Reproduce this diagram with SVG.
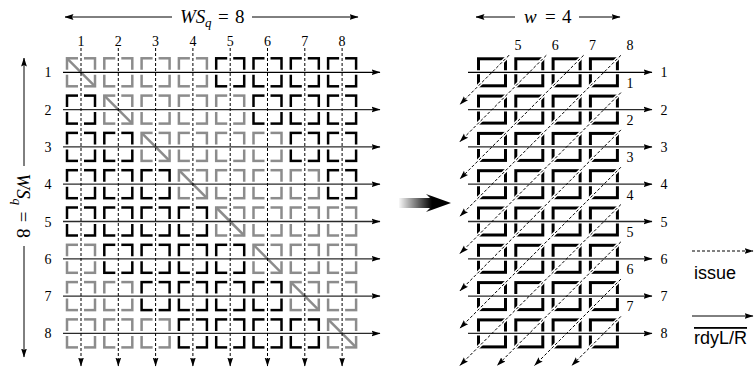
<svg xmlns="http://www.w3.org/2000/svg" width="754" height="367" viewBox="0 0 754 367">
<defs>
<style>
.cl{fill:none;stroke-width:2.5}
.g{stroke:#8c8c8c}
.k{stroke:#000}
.cr{fill:none;stroke:#000;stroke-width:3}
.dg{stroke:#8c8c8c;stroke-width:2.5}
.halo{stroke:#fff;fill:none}
.row{stroke:#2a2a2a;stroke-width:1.3;fill:none}
.dash{stroke:#000;stroke-width:1;stroke-dasharray:3 2;fill:none}
.num{font-family:"Liberation Serif","DejaVu Serif",serif;font-size:14px;text-anchor:middle;fill:#000}
.math{font-family:"Liberation Serif","DejaVu Serif",serif;font-size:19px;fill:#000}
.ann{stroke:#000;stroke-width:1;fill:none}
.leg{font-family:"Liberation Sans",Arial,sans-serif;font-size:18px;fill:#000}
</style>
<marker id="ah" markerWidth="9" markerHeight="7" refX="8.5" refY="3.5" orient="auto" markerUnits="userSpaceOnUse">
<path d="M0,0.6 L9,3.5 L0,6.4 L1.5,3.5 z" fill="#000"/>
</marker>
<marker id="ahs" markerWidth="9" markerHeight="7" refX="8.5" refY="3.5" orient="auto-start-reverse" markerUnits="userSpaceOnUse">
<path d="M0,0.6 L9,3.5 L0,6.4 L1.5,3.5 z" fill="#000"/>
</marker>
<linearGradient id="bg" x1="398" y1="0" x2="432" y2="0" gradientUnits="userSpaceOnUse">
<stop offset="0" stop-color="#fff"/>
<stop offset="1" stop-color="#000"/>
</linearGradient>
</defs>

<!-- annotations -->
<g id="ws-top">
<line class="ann" x1="65" y1="17" x2="172" y2="17" marker-start="url(#ahs)"/>
<line class="ann" x1="252" y1="17" x2="358" y2="17" marker-end="url(#ah)"/>
<text class="math" y="23"><tspan x="180" font-style="italic">WS</tspan><tspan x="205" font-style="italic" font-size="13" dy="4">q</tspan><tspan x="218" dy="-4">=</tspan><tspan x="235">8</tspan></text>
</g>
<g id="ws-left">
<line class="ann" x1="24" y1="166" x2="24" y2="58" marker-end="url(#ah)"/>
<line class="ann" x1="24" y1="246" x2="24" y2="357" marker-end="url(#ah)"/>
<text class="math" transform="translate(17,206) rotate(90)"><tspan x="-32.5" font-style="italic">WS</tspan><tspan x="-7.5" font-style="italic" font-size="13" dy="4">q</tspan><tspan x="5.5" dy="-4">=</tspan><tspan x="22.5">8</tspan></text>
</g>
<g id="w-top">
<line class="ann" x1="476" y1="17" x2="515" y2="17" marker-start="url(#ahs)"/>
<line class="ann" x1="579" y1="17" x2="620" y2="17" marker-end="url(#ah)"/>
<text class="math" y="23"><tspan x="524" font-style="italic">w</tspan><tspan x="545">=</tspan><tspan x="562">4</tspan></text>
</g>

<!-- left grid cells -->
<g id="left-cells">
<g id="L11"><rect class="cl g" x="67" y="58.3" width="28" height="28"/></g>
<g id="L12"><rect class="cl g" x="104.3" y="58.3" width="28" height="28"/></g>
<g id="L13"><rect class="cl g" x="141.6" y="58.3" width="28" height="28"/></g>
<g id="L14"><rect class="cl g" x="178.9" y="58.3" width="28" height="28"/></g>
<g id="L15"><rect class="cl k" x="216.2" y="58.3" width="28" height="28"/></g>
<g id="L16"><rect class="cl k" x="253.5" y="58.3" width="28" height="28"/></g>
<g id="L17"><rect class="cl k" x="290.8" y="58.3" width="28" height="28"/></g>
<g id="L18"><rect class="cl k" x="328.1" y="58.3" width="28" height="28"/></g>

<g id="L21"><rect class="cl k" x="67" y="95.6" width="28" height="28"/></g>
<g id="L22"><rect class="cl g" x="104.3" y="95.6" width="28" height="28"/></g>
<g id="L23"><rect class="cl g" x="141.6" y="95.6" width="28" height="28"/></g>
<g id="L24"><rect class="cl g" x="178.9" y="95.6" width="28" height="28"/></g>
<g id="L25"><rect class="cl g" x="216.2" y="95.6" width="28" height="28"/></g>
<g id="L26"><rect class="cl k" x="253.5" y="95.6" width="28" height="28"/></g>
<g id="L27"><rect class="cl k" x="290.8" y="95.6" width="28" height="28"/></g>
<g id="L28"><rect class="cl k" x="328.1" y="95.6" width="28" height="28"/></g>

<g id="L31"><rect class="cl k" x="67" y="132.9" width="28" height="28"/></g>
<g id="L32"><rect class="cl k" x="104.3" y="132.9" width="28" height="28"/></g>
<g id="L33"><rect class="cl g" x="141.6" y="132.9" width="28" height="28"/></g>
<g id="L34"><rect class="cl g" x="178.9" y="132.9" width="28" height="28"/></g>
<g id="L35"><rect class="cl g" x="216.2" y="132.9" width="28" height="28"/></g>
<g id="L36"><rect class="cl g" x="253.5" y="132.9" width="28" height="28"/></g>
<g id="L37"><rect class="cl k" x="290.8" y="132.9" width="28" height="28"/></g>
<g id="L38"><rect class="cl k" x="328.1" y="132.9" width="28" height="28"/></g>

<g id="L41"><rect class="cl k" x="67" y="170.2" width="28" height="28"/></g>
<g id="L42"><rect class="cl k" x="104.3" y="170.2" width="28" height="28"/></g>
<g id="L43"><rect class="cl k" x="141.6" y="170.2" width="28" height="28"/></g>
<g id="L44"><rect class="cl g" x="178.9" y="170.2" width="28" height="28"/></g>
<g id="L45"><rect class="cl g" x="216.2" y="170.2" width="28" height="28"/></g>
<g id="L46"><rect class="cl g" x="253.5" y="170.2" width="28" height="28"/></g>
<g id="L47"><rect class="cl g" x="290.8" y="170.2" width="28" height="28"/></g>
<g id="L48"><rect class="cl k" x="328.1" y="170.2" width="28" height="28"/></g>

<g id="L51"><rect class="cl k" x="67" y="207.5" width="28" height="28"/></g>
<g id="L52"><rect class="cl k" x="104.3" y="207.5" width="28" height="28"/></g>
<g id="L53"><rect class="cl k" x="141.6" y="207.5" width="28" height="28"/></g>
<g id="L54"><rect class="cl k" x="178.9" y="207.5" width="28" height="28"/></g>
<g id="L55"><rect class="cl g" x="216.2" y="207.5" width="28" height="28"/></g>
<g id="L56"><rect class="cl g" x="253.5" y="207.5" width="28" height="28"/></g>
<g id="L57"><rect class="cl g" x="290.8" y="207.5" width="28" height="28"/></g>
<g id="L58"><rect class="cl g" x="328.1" y="207.5" width="28" height="28"/></g>

<g id="L61"><rect class="cl g" x="67" y="244.8" width="28" height="28"/></g>
<g id="L62"><rect class="cl k" x="104.3" y="244.8" width="28" height="28"/></g>
<g id="L63"><rect class="cl k" x="141.6" y="244.8" width="28" height="28"/></g>
<g id="L64"><rect class="cl k" x="178.9" y="244.8" width="28" height="28"/></g>
<g id="L65"><rect class="cl k" x="216.2" y="244.8" width="28" height="28"/></g>
<g id="L66"><rect class="cl g" x="253.5" y="244.8" width="28" height="28"/></g>
<g id="L67"><rect class="cl g" x="290.8" y="244.8" width="28" height="28"/></g>
<g id="L68"><rect class="cl g" x="328.1" y="244.8" width="28" height="28"/></g>

<g id="L71"><rect class="cl g" x="67" y="282.1" width="28" height="28"/></g>
<g id="L72"><rect class="cl g" x="104.3" y="282.1" width="28" height="28"/></g>
<g id="L73"><rect class="cl k" x="141.6" y="282.1" width="28" height="28"/></g>
<g id="L74"><rect class="cl k" x="178.9" y="282.1" width="28" height="28"/></g>
<g id="L75"><rect class="cl k" x="216.2" y="282.1" width="28" height="28"/></g>
<g id="L76"><rect class="cl k" x="253.5" y="282.1" width="28" height="28"/></g>
<g id="L77"><rect class="cl g" x="290.8" y="282.1" width="28" height="28"/></g>
<g id="L78"><rect class="cl g" x="328.1" y="282.1" width="28" height="28"/></g>

<g id="L81"><rect class="cl g" x="67" y="319.4" width="28" height="28"/></g>
<g id="L82"><rect class="cl g" x="104.3" y="319.4" width="28" height="28"/></g>
<g id="L83"><rect class="cl g" x="141.6" y="319.4" width="28" height="28"/></g>
<g id="L84"><rect class="cl k" x="178.9" y="319.4" width="28" height="28"/></g>
<g id="L85"><rect class="cl k" x="216.2" y="319.4" width="28" height="28"/></g>
<g id="L86"><rect class="cl k" x="253.5" y="319.4" width="28" height="28"/></g>
<g id="L87"><rect class="cl k" x="290.8" y="319.4" width="28" height="28"/></g>
<g id="L88"><rect class="cl g" x="328.1" y="319.4" width="28" height="28"/></g>
</g>

<!-- right grid cells -->
<g id="right-cells">
<g id="R11"><rect class="cr" x="478.5" y="58.8" width="27" height="27"/></g>
<g id="R12"><rect class="cr" x="515.8" y="58.8" width="27" height="27"/></g>
<g id="R13"><rect class="cr" x="553.1" y="58.8" width="27" height="27"/></g>
<g id="R14"><rect class="cr" x="590.4" y="58.8" width="27" height="27"/></g>
<g id="R21"><rect class="cr" x="478.5" y="96.1" width="27" height="27"/></g>
<g id="R22"><rect class="cr" x="515.8" y="96.1" width="27" height="27"/></g>
<g id="R23"><rect class="cr" x="553.1" y="96.1" width="27" height="27"/></g>
<g id="R24"><rect class="cr" x="590.4" y="96.1" width="27" height="27"/></g>
<g id="R31"><rect class="cr" x="478.5" y="133.4" width="27" height="27"/></g>
<g id="R32"><rect class="cr" x="515.8" y="133.4" width="27" height="27"/></g>
<g id="R33"><rect class="cr" x="553.1" y="133.4" width="27" height="27"/></g>
<g id="R34"><rect class="cr" x="590.4" y="133.4" width="27" height="27"/></g>
<g id="R41"><rect class="cr" x="478.5" y="170.7" width="27" height="27"/></g>
<g id="R42"><rect class="cr" x="515.8" y="170.7" width="27" height="27"/></g>
<g id="R43"><rect class="cr" x="553.1" y="170.7" width="27" height="27"/></g>
<g id="R44"><rect class="cr" x="590.4" y="170.7" width="27" height="27"/></g>
<g id="R51"><rect class="cr" x="478.5" y="208" width="27" height="27"/></g>
<g id="R52"><rect class="cr" x="515.8" y="208" width="27" height="27"/></g>
<g id="R53"><rect class="cr" x="553.1" y="208" width="27" height="27"/></g>
<g id="R54"><rect class="cr" x="590.4" y="208" width="27" height="27"/></g>
<g id="R61"><rect class="cr" x="478.5" y="245.3" width="27" height="27"/></g>
<g id="R62"><rect class="cr" x="515.8" y="245.3" width="27" height="27"/></g>
<g id="R63"><rect class="cr" x="553.1" y="245.3" width="27" height="27"/></g>
<g id="R64"><rect class="cr" x="590.4" y="245.3" width="27" height="27"/></g>
<g id="R71"><rect class="cr" x="478.5" y="282.6" width="27" height="27"/></g>
<g id="R72"><rect class="cr" x="515.8" y="282.6" width="27" height="27"/></g>
<g id="R73"><rect class="cr" x="553.1" y="282.6" width="27" height="27"/></g>
<g id="R74"><rect class="cr" x="590.4" y="282.6" width="27" height="27"/></g>
<g id="R81"><rect class="cr" x="478.5" y="319.9" width="27" height="27"/></g>
<g id="R82"><rect class="cr" x="515.8" y="319.9" width="27" height="27"/></g>
<g id="R83"><rect class="cr" x="553.1" y="319.9" width="27" height="27"/></g>
<g id="R84"><rect class="cr" x="590.4" y="319.9" width="27" height="27"/></g>
</g>

<!-- connectors -->
<g id="connectors">
<g class="halo" stroke-width="5">
<line x1="64" y1="72.3" x2="372" y2="72.3"/>
<line x1="64" y1="109.6" x2="372" y2="109.6"/>
<line x1="64" y1="146.9" x2="372" y2="146.9"/>
<line x1="64" y1="184.2" x2="372" y2="184.2"/>
<line x1="64" y1="221.5" x2="372" y2="221.5"/>
<line x1="64" y1="258.8" x2="372" y2="258.8"/>
<line x1="64" y1="296.1" x2="372" y2="296.1"/>
<line x1="64" y1="333.4" x2="372" y2="333.4"/>
</g>
<g class="halo" stroke-width="6">
<line x1="81" y1="50" x2="81" y2="352"/>
<line x1="118.3" y1="50" x2="118.3" y2="352"/>
<line x1="155.6" y1="50" x2="155.6" y2="352"/>
<line x1="192.9" y1="50" x2="192.9" y2="352"/>
<line x1="230.2" y1="50" x2="230.2" y2="352"/>
<line x1="267.5" y1="50" x2="267.5" y2="352"/>
<line x1="304.8" y1="50" x2="304.8" y2="352"/>
<line x1="342.1" y1="50" x2="342.1" y2="352"/>
</g>
<g class="dg">
<line x1="67" y1="58.3" x2="95" y2="86.3"/>
<line x1="104.3" y1="95.6" x2="132.3" y2="123.6"/>
<line x1="141.6" y1="132.9" x2="169.6" y2="160.9"/>
<line x1="178.9" y1="170.2" x2="206.9" y2="198.2"/>
<line x1="216.2" y1="207.5" x2="244.2" y2="235.5"/>
<line x1="253.5" y1="244.8" x2="281.5" y2="272.8"/>
<line x1="290.8" y1="282.1" x2="318.8" y2="310.1"/>
<line x1="328.1" y1="319.4" x2="356.1" y2="347.4"/>
</g>
<g class="row">
<line x1="63" y1="72.3" x2="380" y2="72.3" stroke="#000" marker-end="url(#ah)"/>
<line x1="63" y1="109.6" x2="380" y2="109.6" marker-end="url(#ah)"/>
<line x1="63" y1="146.9" x2="380" y2="146.9" marker-end="url(#ah)"/>
<line x1="63" y1="184.2" x2="380" y2="184.2" marker-end="url(#ah)"/>
<line x1="63" y1="221.5" x2="380" y2="221.5" marker-end="url(#ah)"/>
<line x1="63" y1="258.8" x2="380" y2="258.8" marker-end="url(#ah)"/>
<line x1="63" y1="296.1" x2="380" y2="296.1" marker-end="url(#ah)"/>
<line x1="63" y1="333.4" x2="380" y2="333.4" marker-end="url(#ah)"/>
</g>
<g class="dash">
<line x1="81" y1="48" x2="81" y2="366" marker-end="url(#ah)"/>
<line x1="118.3" y1="48" x2="118.3" y2="366" marker-end="url(#ah)"/>
<line x1="155.6" y1="48" x2="155.6" y2="366" marker-end="url(#ah)"/>
<line x1="192.9" y1="48" x2="192.9" y2="366" marker-end="url(#ah)"/>
<line x1="230.2" y1="48" x2="230.2" y2="366" marker-end="url(#ah)"/>
<line x1="267.5" y1="48" x2="267.5" y2="366" marker-end="url(#ah)"/>
<line x1="304.8" y1="48" x2="304.8" y2="366" marker-end="url(#ah)"/>
<line x1="342.1" y1="48" x2="342.1" y2="366" marker-end="url(#ah)"/>
</g>

<g class="halo" stroke-width="4">
<line x1="470" y1="72.3" x2="640" y2="72.3"/>
<line x1="470" y1="109.6" x2="640" y2="109.6"/>
<line x1="470" y1="146.9" x2="640" y2="146.9"/>
<line x1="470" y1="184.2" x2="640" y2="184.2"/>
<line x1="470" y1="221.5" x2="640" y2="221.5"/>
<line x1="470" y1="258.8" x2="640" y2="258.8"/>
<line x1="470" y1="296.1" x2="640" y2="296.1"/>
<line x1="470" y1="333.4" x2="640" y2="333.4"/>
</g>
<g class="halo" stroke-width="3.5">
<line x1="509" y1="55.3" x2="466" y2="98.3"/>
<line x1="546.3" y1="55.3" x2="466" y2="135.6"/>
<line x1="583.6" y1="55.3" x2="466" y2="172.9"/>
<line x1="620.9" y1="55.3" x2="466" y2="210.2"/>
<line x1="620.9" y1="92.6" x2="466" y2="247.5"/>
<line x1="620.9" y1="129.9" x2="466" y2="284.8"/>
<line x1="620.9" y1="167.2" x2="466" y2="322.1"/>
<line x1="620.9" y1="204.5" x2="466" y2="359.4"/>
<line x1="620.9" y1="241.8" x2="503.3" y2="359.4"/>
<line x1="620.9" y1="279.1" x2="540.6" y2="359.4"/>
<line x1="620.9" y1="316.4" x2="577.9" y2="359.4"/>
</g>
<g class="row">
<line x1="468" y1="72.3" x2="652" y2="72.3" stroke="#000" marker-end="url(#ah)"/>
<line x1="468" y1="109.6" x2="652" y2="109.6" marker-end="url(#ah)"/>
<line x1="468" y1="146.9" x2="652" y2="146.9" marker-end="url(#ah)"/>
<line x1="468" y1="184.2" x2="652" y2="184.2" marker-end="url(#ah)"/>
<line x1="468" y1="221.5" x2="652" y2="221.5" marker-end="url(#ah)"/>
<line x1="468" y1="258.8" x2="652" y2="258.8" marker-end="url(#ah)"/>
<line x1="468" y1="296.1" x2="652" y2="296.1" marker-end="url(#ah)"/>
<line x1="468" y1="333.4" x2="652" y2="333.4" marker-end="url(#ah)"/>
</g>
<g class="dash">
<line x1="509" y1="55.3" x2="460" y2="104.3" marker-end="url(#ah)"/>
<line x1="546.3" y1="55.3" x2="460" y2="141.6" marker-end="url(#ah)"/>
<line x1="583.6" y1="55.3" x2="460" y2="178.9" marker-end="url(#ah)"/>
<line x1="620.9" y1="55.3" x2="460" y2="216.2" marker-end="url(#ah)"/>
<line x1="620.9" y1="92.6" x2="460" y2="253.5" marker-end="url(#ah)"/>
<line x1="620.9" y1="129.9" x2="460" y2="290.8" marker-end="url(#ah)"/>
<line x1="620.9" y1="167.2" x2="460" y2="328.1" marker-end="url(#ah)"/>
<line x1="620.9" y1="204.5" x2="460" y2="365.4" marker-end="url(#ah)"/>
<line x1="620.9" y1="241.8" x2="497.3" y2="365.4" marker-end="url(#ah)"/>
<line x1="620.9" y1="279.1" x2="534.6" y2="365.4" marker-end="url(#ah)"/>
<line x1="620.9" y1="316.4" x2="571.9" y2="365.4" marker-end="url(#ah)"/>
</g>
</g>

<!-- labels -->
<g id="left-col-labels" class="num">
<text x="81" y="46">1</text><text x="118.3" y="46">2</text><text x="155.6" y="46">3</text><text x="192.9" y="46">4</text>
<text x="230.2" y="46">5</text><text x="267.5" y="46">6</text><text x="304.8" y="46">7</text><text x="342.1" y="46">8</text>
</g>
<g id="left-row-labels" class="num">
<text x="48" y="77.3">1</text><text x="48" y="114.6">2</text><text x="48" y="151.9">3</text><text x="48" y="189.2">4</text>
<text x="48" y="226.5">5</text><text x="48" y="263.8">6</text><text x="48" y="301.1">7</text><text x="48" y="338.4">8</text>
</g>
<g id="right-row-labels" class="num">
<text x="664" y="77.3">1</text><text x="664" y="114.6">2</text><text x="664" y="151.9">3</text><text x="664" y="189.2">4</text>
<text x="664" y="226.5">5</text><text x="664" y="263.8">6</text><text x="664" y="301.1">7</text><text x="664" y="338.4">8</text>
</g>
<g id="right-diag-labels" class="num">
<text x="518" y="50.3">5</text><text x="555.3" y="50.3">6</text><text x="592.6" y="50.3">7</text><text x="629.9" y="50.3">8</text>
<text x="629.9" y="87.6">1</text><text x="629.9" y="124.9">2</text><text x="629.9" y="162.2">3</text><text x="629.9" y="199.5">4</text>
<text x="629.9" y="236.8">5</text><text x="629.9" y="274.1">6</text><text x="629.9" y="311.4">7</text>
</g>

<g id="big-arrow">
<path d="M399,198 L430,198 L426,194 L451,203 L426,212 L430,208 L399,208 Z" fill="url(#bg)"/>
</g>

<g id="legend">
<line class="dash" x1="692" y1="251" x2="753" y2="251" marker-end="url(#ah)"/>
<text class="leg" x="694" y="279">issue</text>
<line class="ann" x1="692" y1="316" x2="753" y2="316" marker-end="url(#ah)"/>
<text class="leg" x="694" y="344" text-decoration="overline">rdyL/R</text>
</g>
</svg>
